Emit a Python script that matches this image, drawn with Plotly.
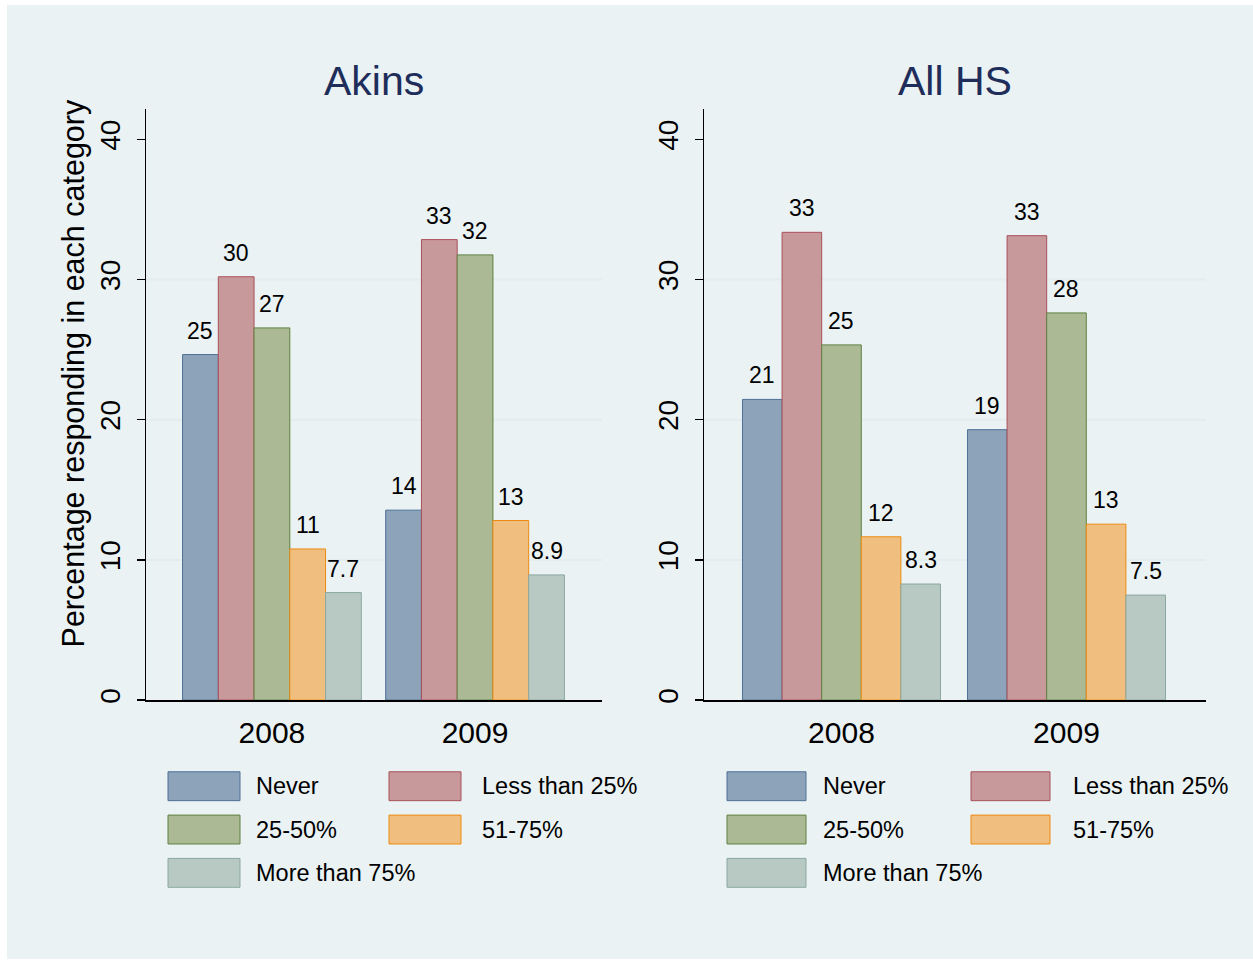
import plotly.graph_objects as go

years = ["2008", "2009"]
series = ["Never", "Less than 25%", "25-50%", "51-75%", "More than 75%"]
akins_never = [24.65, 13.55]
akins_lt25 = [30.2, 32.85]
akins_25_50 = [26.55, 31.76]
akins_51_75 = [10.78, 12.81]
akins_gt75 = [7.67, 8.93]
hs_never = [21.45, 19.29]
hs_lt25 = [33.37, 33.13]
hs_25_50 = [25.34, 27.62]
hs_51_75 = [11.65, 12.55]
hs_gt75 = [8.28, 7.49]
panel_titles = ["Akins", "All HS"]
y_ticks = [0, 10, 20, 30, 40]
grid_vals = [10, 20, 30]

fills = ["#8DA3B9", "#C8999B", "#ABBA95", "#F0BF80", "#B8C8C2"]
lines = ["#4F7196", "#A8505A", "#5F8040", "#EC8A10", "#8AA8A0"]

panels = [
    [akins_never, akins_lt25, akins_25_50, akins_51_75, akins_gt75],
    [hs_never, hs_lt25, hs_25_50, hs_51_75, hs_gt75],
]

W, H = 1253, 963
BG = "#EAF2F3"
FONT = "Liberation Sans, Arial, sans-serif"
bargap = 0.12
wbar = (1 - bargap) / len(series)


def px(x):
    return x / W


def py(y):
    return 1 - y / H


xdomains = [[px(146), px(602)], [px(704), px(1206)]]
ydomain = [py(703), py(109)]
xranges = [[-0.62, 1.625], [-0.611, 1.62]]

fig = go.Figure()
annotations = []
shapes = [dict(type="rect", xref="paper", yref="paper", x0=px(7), x1=1, y0=0, y1=py(5),
               fillcolor=BG, line=dict(width=0), layer="below")]

xpos = list(range(len(years)))
for p, data in enumerate(panels):
    xa = "x" if p == 0 else "x2"
    ya = "y" if p == 0 else "y2"
    for i, (name, vals) in enumerate(zip(series, data)):
        fig.add_trace(go.Bar(
            x=xpos, y=vals, name=name, xaxis=xa, yaxis=ya, showlegend=False,
            marker=dict(color=fills[i], line=dict(color=lines[i], width=1)),
            offsetgroup=str(i), hoverinfo="skip",
        ))
        for g, v in enumerate(vals):
            annotations.append(dict(
                x=g + (i - (len(series) - 1) / 2) * wbar, y=v, xref=xa, yref=ya,
                text=f"{v:.2g}", showarrow=False, yanchor="bottom", yshift=9,
                font=dict(size=23, color="#000000", family=FONT)))
    for gv in grid_vals:
        shapes.append(dict(type="line", xref=f"{xa} domain", yref=ya, x0=0, x1=1, y0=gv, y1=gv,
                           line=dict(color="#E3ECEE", width=2), layer="below"))
    annotations.append(dict(x=sum(xdomains[p]) / 2, y=py(81), xref="paper", yref="paper",
                            text=panel_titles[p], showarrow=False, xanchor="center", yanchor="middle",
                            font=dict(size=41, color="#1E2D5A", family=FONT)))

annotations.append(dict(x=px(73), y=py(375), xref="paper", yref="paper",
                        text="Percentage responding in each category", textangle=-90,
                        showarrow=False, xanchor="center", yanchor="middle",
                        font=dict(size=30.5, color="#000000", family=FONT)))

legend_cfg = [
    dict(sw_x=[168, 389], sw_w=72, tx=[254, 480]),
    dict(sw_x=[727, 971], sw_w=79, tx=[821, 1071]),
]
row_y = [789.5, 833, 876.5]
sw_h = 29
for cfg in legend_cfg:
    for k, name in enumerate(series):
        r, c = divmod(k, 2)
        x0 = cfg["sw_x"][c]
        yc = row_y[r]
        shapes.append(dict(type="rect", xref="paper", yref="paper",
                           x0=px(x0), x1=px(x0 + cfg["sw_w"]),
                           y0=py(yc + sw_h / 2), y1=py(yc - sw_h / 2),
                           fillcolor=fills[k], line=dict(color=lines[k], width=1)))
        annotations.append(dict(x=px(cfg["tx"][c]), y=py(yc), xref="paper", yref="paper",
                                text=name, showarrow=False, xanchor="left", yanchor="middle",
                                font=dict(size=23.5, color="#000000", family=FONT)))

axis_common_x = dict(tickvals=xpos, ticktext=years, showline=True, linecolor="#000000", linewidth=1.5,
                     ticks="outside", ticklen=5, tickcolor="rgba(0,0,0,0)", showgrid=False,
                     zeroline=False, tickfont=dict(size=30, color="#000000", family=FONT))
axis_common_y = dict(range=[0, 42.2], tickvals=y_ticks, showline=True, linecolor="#000000", linewidth=1.5,
                     ticks="outside", ticklen=8, tickwidth=1.5, tickcolor="#000000", showgrid=False,
                     zeroline=False, tickangle=-90, ticklabelstandoff=5,
                     tickfont=dict(size=28, color="#000000", family=FONT))

fig.update_layout(
    width=W, height=H, margin=dict(l=0, r=0, t=0, b=0),
    paper_bgcolor="#FFFFFF", plot_bgcolor="#FFFFFF",
    barmode="group", bargap=bargap, bargroupgap=0,
    xaxis=dict(domain=xdomains[0], range=xranges[0], anchor="y", **axis_common_x),
    xaxis2=dict(domain=xdomains[1], range=xranges[1], anchor="y2", **axis_common_x),
    yaxis=dict(domain=ydomain, anchor="x", **axis_common_y),
    yaxis2=dict(domain=ydomain, anchor="x2", **axis_common_y),
    annotations=annotations, shapes=shapes, showlegend=False,
    font=dict(family=FONT), hovermode=False,
)

fig.write_html(
    "out.html",
    config={"displayModeBar": False, "staticPlot": True},
    post_script="document.body.style.margin='0';document.body.style.overflow='hidden';",
)
